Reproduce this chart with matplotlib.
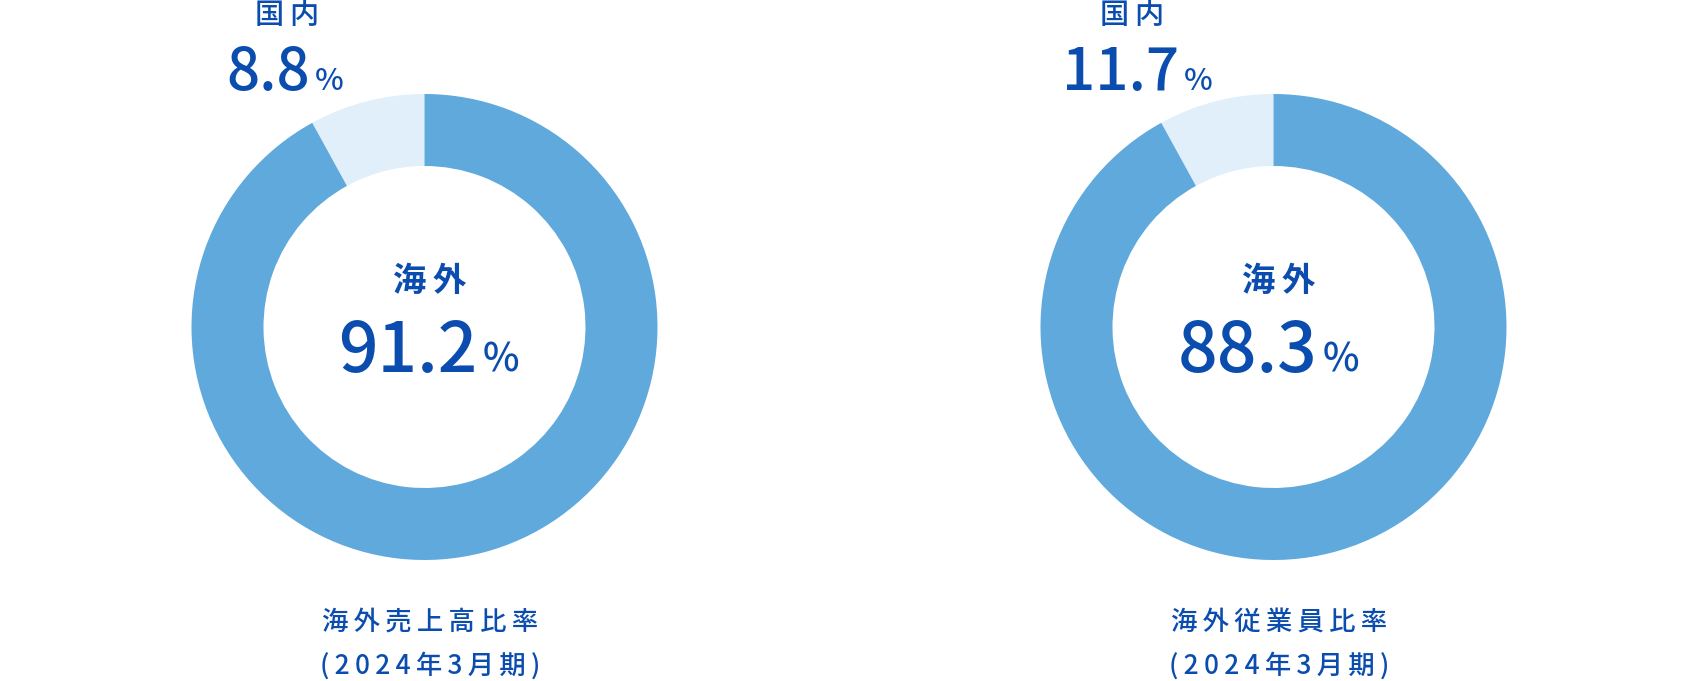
import matplotlib
matplotlib.use("Agg")
import matplotlib.pyplot as plt

# chart data
titles = ["海外売上高比率", "海外従業員比率"]
period = "(2024年3月期)"
overseas_labels = ["91.2", "88.3"]
domestic_labels = ["8.8", "11.7"]
# wedge sizes as drawn in the reference (both rings show the same slice)
domestic_drawn = [8.0, 8.0]
overseas_drawn = [92.0, 92.0]

BLUE = "#5fa9dc"
LIGHT = "#e1effa"
TEXT = "#0b4daf"
FONT = ["Noto Sans CJK JP", "DejaVu Sans"]

W, H = 1698, 681
centers_x = [424.5, 1273.5]
center_y = H - 327
R_OUT = 233
R_IN = 161

# label anchors relative to ring center
head_x = [-137, -141]
top_anchor = [-114, -94]
mid_anchor = [53, 44]


def spaced(s):
    return "\u2009".join(s)


fig = plt.figure(figsize=(W / 100, H / 100), dpi=100)
ax = fig.add_axes([0, 0, 1, 1])

for i, cx in enumerate(centers_x):
    ax.pie([domestic_drawn[i], overseas_drawn[i]], colors=[LIGHT, BLUE],
           startangle=90, counterclock=True, center=(cx, center_y),
           radius=R_OUT, wedgeprops=dict(width=R_OUT - R_IN, linewidth=0))

    # domestic label above the ring
    ax.text(cx + head_x[i], H - 15, spaced("国内"), family=FONT, fontsize=21,
            weight="medium", color=TEXT, ha="center", va="center")
    tx = cx + top_anchor[i]
    ax.text(tx, H - 90, domestic_labels[i], family=FONT, fontsize=42,
            weight="medium", color=TEXT, ha="right", va="baseline")
    ax.text(tx + 4, H - 90, "%", family=FONT, fontsize=22,
            weight="medium", color=TEXT, ha="left", va="baseline")

    # overseas label in the middle
    ax.text(cx + 5, H - 281, spaced("海外"), family=FONT, fontsize=24,
            weight="bold", color=TEXT, ha="center", va="center")
    mx = cx + mid_anchor[i]
    ax.text(mx, H - 372, overseas_labels[i], family=FONT, fontsize=50,
            weight="medium", color=TEXT, ha="right", va="baseline")
    ax.text(mx + 5, H - 372, "%", family=FONT, fontsize=28,
            weight="medium", color=TEXT, ha="left", va="baseline")

    # caption below
    ax.text(cx + 6, H - 622, spaced(titles[i]), family=FONT, fontsize=19,
            weight="medium", color=TEXT, ha="center", va="center")
    ax.text(cx + 6, H - 666, spaced(period), family=FONT, fontsize=19,
            weight="medium", color=TEXT, ha="center", va="center")

ax.set_xlim(0, W)
ax.set_ylim(0, H)
ax.set_aspect("equal")
ax.axis("off")

fig.savefig("out.png", dpi=100, facecolor="white")
